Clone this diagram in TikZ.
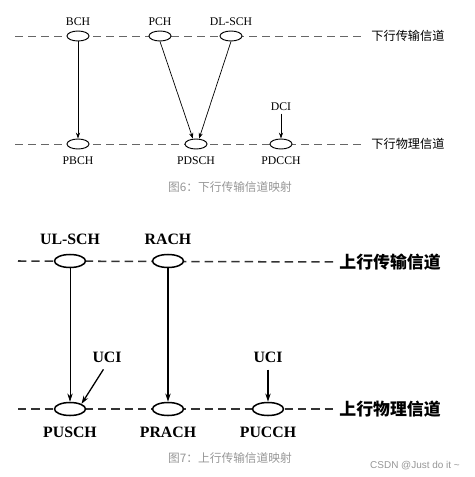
\documentclass[tikz,border=0pt]{standalone}
\usepackage{fontspec}
\setmainfont{Liberation Serif}
\newfontfamily\cjk{Noto Sans CJK SC}
\newfontfamily\csdnfont{Liberation Sans}
\usetikzlibrary{shapes.geometric, positioning, arrows.meta}

\definecolor{capgray}{RGB}{150,150,150}

\tikzset{
  chsmall/.style={ellipse, draw, line width=0.8pt, fill=white, minimum width=0.66cm, minimum height=0.3cm, inner sep=0pt},
  chbig/.style={ellipse, draw, line width=1.3pt, fill=white, minimum width=0.93cm, minimum height=0.39cm, inner sep=0pt},
  txtsmall/.style={font=\fontsize{10}{12}\selectfont, inner sep=1pt},
  txtbig/.style={font=\fontsize{13.5}{16}\selectfont\bfseries, inner sep=1pt},
  cjksmall/.style={font=\fontsize{10.4}{12}\cjk, inner sep=1pt, anchor=west},
  cjkbig/.style={font=\fontsize{14.4}{16}\cjk\bfseries, inner sep=1pt, anchor=west},
  dashsmall/.style={line width=0.8pt, gray!80!black, dash pattern=on 0.24cm off 0.15cm, shorten >=4pt},
  dashbig/.style={line width=1.3pt, black!80, dash pattern=on 0.25cm off 0.15cm, shorten >=4pt},
  arrsmall/.style={-{Stealth[length=5pt, width=3.5pt]}, line width=0.6pt},
  arrbig/.style={-{Stealth[length=7pt, width=4.5pt]}, line width=0.8pt},
  caption/.style={font=\fontsize{10}{12}\cjk, text=capgray}
}

\begin{document}
\begin{tikzpicture}[x=0.03cm, y=-0.03cm]
  \useasboundingbox (0,0) rectangle (474,477);

  % downlink
  \node[cjksmall] (dltr) at (370,36) {下行传输信道};
  \node[cjksmall] (dlph) at (370,144) {下行物理信道};
  \coordinate (dltr-l) at (15,36);
  \coordinate (dlph-l) at (15,144);
  \draw[dashsmall] (dltr-l) -- (dltr.west);
  \draw[dashsmall] (dlph-l) -- (dlph.west);

  \node[chsmall] (bch) at (78,36) {};
  \node[chsmall] (pch) at (160,36) {};
  \node[chsmall] (dlsch) at (231,36) {};
  \node[chsmall] (pbch) at (78,144) {};
  \node[chsmall] (pdsch) at (196,144) {};
  \node[chsmall] (pdcch) at (281,144) {};

  \node[txtsmall, above=0.12cm of bch] (bch-t) {BCH};
  \node[txtsmall, above=0.12cm of pch] (pch-t) {PCH};
  \node[txtsmall, above=0.12cm of dlsch] (dlsch-t) {DL-SCH};
  \node[txtsmall, below=0.18cm of pbch] (pbch-t) {PBCH};
  \node[txtsmall, below=0.18cm of pdsch] (pdsch-t) {PDSCH};
  \node[txtsmall, below=0.18cm of pdcch] (pdcch-t) {PDCCH};
  \node[txtsmall] (dci) at (281,107) {DCI};

  \draw[arrsmall] (bch) -- (pbch);
  \draw[arrsmall] (pch.south) -- (pdsch.120);
  \draw[arrsmall] (dlsch.south) -- (pdsch.60);
  \draw[arrsmall, shorten <=1pt] (dci.south) -- (pdcch.north);

  \node[caption] (cap6) at (230,187) {图6：下行传输信道映射};

  % uplink
  \node[cjkbig] (ultr) at (338,262) {上行传输信道};
  \node[cjkbig] (ulph) at (338,409) {上行物理信道};
  \coordinate (ultr-l) at (18,261);
  \coordinate (ulph-l) at (18,409);
  \draw[dashbig] (ultr-l) -- (ultr.west);
  \draw[dashbig] (ulph-l) -- (ulph.west);

  \node[chbig] (ulsch) at (70,261) {};
  \node[chbig] (rach) at (168,261) {};
  \node[chbig] (pusch) at (70,409) {};
  \node[chbig] (prach) at (168,409) {};
  \node[chbig] (pucch) at (268,409) {};

  \node[txtbig, above=0.24cm of ulsch] (ulsch-t) {UL-SCH};
  \node[txtbig, above=0.24cm of rach] (rach-t) {RACH};
  \node[txtbig, below=0.27cm of pusch] (pusch-t) {PUSCH};
  \node[txtbig, below=0.27cm of prach] (prach-t) {PRACH};
  \node[txtbig, below=0.27cm of pucch] (pucch-t) {PUCCH};
  \node[txtbig] (uci1) at (107,357) {UCI};
  \node[txtbig] (uci2) at (268,357) {UCI};

  \draw[arrbig, line width=0.6pt] (ulsch) -- (pusch);
  \draw[arrbig, line width=1.1pt] (rach) -- (prach);
  \draw[arrbig, line width=1.1pt, shorten <=0.2cm] (uci1.south) -- (pusch.north east);
  \draw[arrbig, line width=1.1pt, shorten <=0.18cm] (uci2.south) -- (pucch.north);

  \node[caption] (cap7) at (230,458) {图7：上行传输信道映射};
  \node[font=\fontsize{8.5}{10}\csdnfont, text=capgray] (csdn) at (415,466) {CSDN @Just do it \textasciitilde};
\end{tikzpicture}
\end{document}
